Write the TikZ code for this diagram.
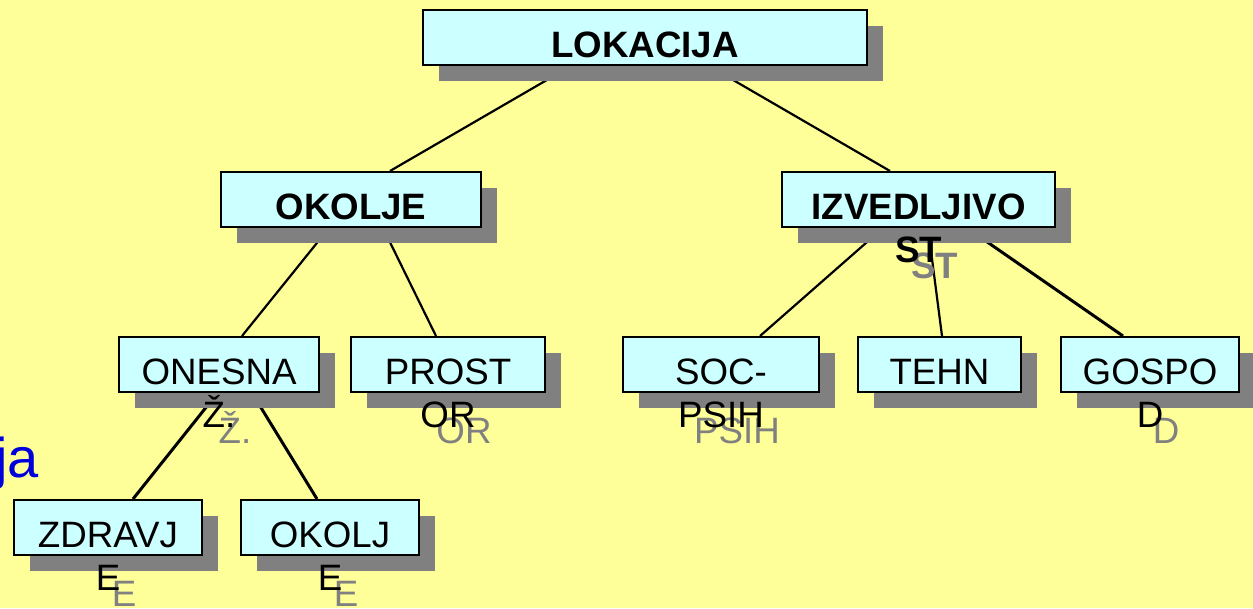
\documentclass[tikz,border=0pt]{standalone}
\usepackage{fontspec}
\setmainfont{Liberation Sans}
\definecolor{bgyellow}{HTML}{FFFF99}
\definecolor{boxcyan}{HTML}{CCFFFF}
\definecolor{shadowgray}{HTML}{808080}
\definecolor{jablue}{HTML}{0000DD}
\pgfdeclarelayer{bg}
\pgfdeclarelayer{lines}
\pgfsetlayers{bg,lines,main}
\begin{document}
\begin{tikzpicture}[x=1pt,y=-1pt,
    box/.style={draw,line width=2pt,fill=boxcyan,minimum height=55,inner sep=0},
    shadowbox/.style={fill=shadowgray,minimum height=55,inner sep=0},
    hd/.style={anchor=north,align=center,inner sep=0,font=\fontsize{36.7}{43}\selectfont\bfseries},
    rg/.style={anchor=north,align=center,inner sep=0,font=\fontsize{36.7}{43}\selectfont},
    shadowtext/.style={text=shadowgray},
    edge/.style={line width=2.2pt},
    thickedge/.style={line width=3pt}]
  \begin{pgfonlayer}{bg}
    \fill[bgyellow] (0,0) rectangle (1253,608);
  \end{pgfonlayer}
  \useasboundingbox (0,0) rectangle (1253,608);
  % boxes: name/centre x/centre y/width/font/text
  \foreach \nm/\cx/\cy/\w/\f/\txt in {
      lok/645/37.5/444/hd/{LOKACIJA},
      oko/351/199.5/260/hd/{OKOLJE},
      izv/918.5/199.5/273/hd/{IZVEDLJIVO\\ST},
      one/219/364.5/200/rg/{ONESNA\\Ž.},
      pro/448/364.5/194/rg/{PROST\\OR},
      soc/721/364.5/196/rg/{SOC-\\PSIH},
      teh/939.5/364.5/163/rg/{TEHN},
      gos/1150/364.5/178/rg/{GOSPO\\D},
      zdr/108/527.5/188/rg/{ZDRAVJ\\E},
      okl/330/527.5/178/rg/{OKOLJ\\E}}{
    % the strut puts the first baseline 34pt under the node top
    \node[\f,shadowtext] at (\cx+16,\cy+1.5) {\rule{0pt}{34pt}\txt};
    \node[shadowbox,minimum width=\w] at (\cx+16,\cy+16) {};
    \node[box,minimum width=\w] (\nm) at (\cx,\cy) {};
    \node[\f] at (\cx,\cy-14.5) {\rule{0pt}{34pt}\txt};
  }
  \node[anchor=base west,inner sep=0,text=jablue,font=\fontsize{56}{60}\selectfont] (ja) at (-5,477) {ja};
  % connectors
  \begin{pgfonlayer}{lines}
    \draw[edge] ([xshift=-74]lok.south) -- ([xshift=39]oko.north);
    \draw[edge] ([xshift=64]lok.south) -- ([xshift=-28.5]izv.north);
    \draw[edge] ([xshift=-22]oko.south) -- ([xshift=23]one.north);
    \draw[edge] ([xshift=32]oko.south) -- ([xshift=-12]pro.north);
    \draw[edge] ([xshift=-35.5]izv.south) -- ([xshift=39]soc.north);
    \draw[edge] ([xshift=9.5]izv.south) -- ([xshift=2.5]teh.north);
    \draw[thickedge] ([xshift=48.5]izv.south) -- ([xshift=-27]gos.north);
    \draw[thickedge] ([xshift=-1.5]one.south) -- ([xshift=25]zdr.north);
    \draw[thickedge] ([xshift=33]one.south) -- ([xshift=-13]okl.north);
  \end{pgfonlayer}
\end{tikzpicture}
\end{document}
